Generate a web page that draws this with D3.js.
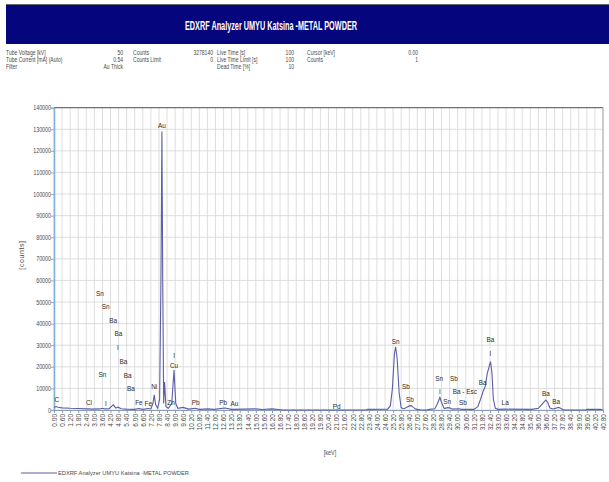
<!DOCTYPE html>
<html>
<head>
<meta charset="utf-8">
<script src="https://cdn.jsdelivr.net/npm/d3@7/dist/d3.min.js"></script>
<style>
  html, body { margin: 0; padding: 0; background: #fff; }
  svg { display: block; }
  .narrow { font-family: "Liberation Sans Narrow", "Arial Narrow", "Liberation Sans", Arial, sans-serif; }
</style>
</head>
<body>
<svg id="chart" width="609" height="482"></svg>
<script>
// Spectrum: energy (keV) and measured counts
const energyKeV = [
  0.00, 0.15, 0.30, 0.60, 1.20, 1.80, 2.40, 2.60, 2.80, 3.40, 3.60, 3.80, 4.10, 4.30, 4.40, 4.60, 4.75, 5.00,
  5.40, 6.00, 6.30, 6.60, 7.00, 7.20, 7.35, 7.45, 7.55, 7.70, 7.85, 7.95, 8.02, 8.08, 8.15, 8.22, 8.32,
  8.50, 8.75, 8.92, 9.05, 9.20, 9.60, 10.00, 10.48, 10.80, 11.44, 11.90, 12.70, 13.20, 15.00, 15.50,
  16.20, 16.70, 17.00, 23.20, 23.30, 24.80, 25.00, 25.15, 25.30, 25.39, 25.50, 25.65, 25.80, 26.00,
  26.20, 26.40, 26.55, 26.70, 26.90, 27.20, 27.40, 27.70, 27.90, 28.30, 28.50, 28.68, 28.80, 29.00,
  29.25, 29.40, 29.60, 30.10, 30.30, 31.20, 31.50, 31.70, 31.90, 32.05, 32.20, 32.44, 32.55, 32.65,
  32.80, 33.00, 33.50, 35.50, 36.00, 36.30, 36.55, 36.70, 36.85, 37.10, 37.50, 37.65, 37.80, 38.00,
  39.50, 39.60, 40.60, 40.80
];
const counts = [
  1200, 1600, 1300, 1000, 800, 700, 500, 600, 400, 500, 800, 500, 600, 1800, 2400, 900, 1300, 600,
  400, 300, 700, 300, 700, 500, 3000, 7000, 2500, 800, 5000, 62000, 129000, 60000, 3000, 13000, 1500,
  800, 3000, 18500, 3000, 800, 1200, 400, 800, 300, 500, 300, 900, 300, 500, 200,
  500, 200, 0, 0, 300, 400, 2000, 10000, 26000, 29300, 24000, 8000, 1000, 600,
  1200, 1900, 2000, 1200, 400, 100, 0, 0, 300, 600, 3000, 5800, 3500, 700,
  1100, 1000, 400, 600, 300, 300, 1500, 5000, 8800, 11000, 17000, 22400, 17000, 5000,
  800, 300, 400, 300, 800, 3000, 4600, 3500, 900, 500, 1200, 800, 200, 0,
  0, 300, 300, 0
];

// Peak identification tags: element, energy (keV), counts level of the tag
const tagNames  = ["Au", "Sn", "Sn", "Ba", "Ba", "I", "Ba", "Sn", "Ba", "Ba", "Ni", "C", "Cl", "I", "Fe", "Fe",
                   "Zn", "Cu", "I", "Pb", "Pb", "Au", "Pd", "Sn", "Sb", "Sb", "Sn", "I", "Sn", "Sb",
                   "Ba - Esc", "Sb", "Ba", "Ba", "I", "La", "Ba", "Ba"];
const tagKeV    = [8.02, 3.42, 3.84, 4.40, 4.78, 4.74, 5.15, 3.59, 5.48, 5.72, 7.45, 0.20, 2.60, 3.86, 6.31, 7.01,
                   8.70, 8.92, 8.92, 10.53, 12.58, 13.40, 21.00, 25.39, 26.15, 26.45, 28.63, 28.68, 29.22, 29.72,
                   30.53, 30.39, 31.85, 32.44, 32.44, 33.53, 36.55, 37.32];
const tagCounts = [132000, 54000, 48000, 41500, 35500, 29000, 22500, 16500, 16000, 10000, 11000, 5000, 3500, 3000, 3800, 3000,
                   3500, 20800, 25500, 3500, 3500, 3000, 1800, 31700, 10800, 5000, 14700, 8500, 4300, 14700,
                   8700, 3500, 12800, 32900, 26400, 3500, 8000, 4300];

// Acquisition parameters shown under the title
const infoLabels = [
  ["Tube Voltage [kV]", "50", "Counts", "3278140", "Live Time [s]", "100", "Cursor [keV]", "0.00"],
  ["Tube Current [mA] (Auto)", "0.54", "Counts Limit", "0", "Live Time Limit [s]", "100", "Counts", "1"],
  ["Filter", "Au Thick", "", "", "Dead Time [%]", "10", "", ""]
];

// Axis ticks
const xTicks = d3.range(0, 69).map(i => +(i * 0.6).toFixed(2));
const yTicks = d3.range(0, 150000, 10000);

const title = "EDXRF Analyzer UMYU Katsina -METAL POWDER";
const seriesName = "EDXRF Analyzer UMYU Katsina -METAL POWDER";

const svg = d3.select("#chart");
const lineColor = "#5d5fa5";

// Squeeze text horizontally to a condensed look
function condense(sel, f) {
  sel.each(function () {
    const w = this.getComputedTextLength();
    d3.select(this).attr("textLength", w * f).attr("lengthAdjust", "spacingAndGlyphs");
  });
}

// Title bar
svg.append("rect").attr("x", 6).attr("y", 4).attr("width", 603).attr("height", 1.5).attr("fill", "#666");
svg.append("rect").attr("x", 6).attr("y", 5).attr("width", 603).attr("height", 39).attr("fill", "#05057d");
svg.append("text").attr("class", "narrow")
  .attr("x", 271).attr("y", 30).attr("text-anchor", "middle")
  .attr("fill", "#fff").attr("font-size", 12.5).attr("font-weight", "bold")
  .attr("textLength", 172).attr("lengthAdjust", "spacingAndGlyphs")
  .text(title);

// Parameter table
const colX = [6, 123, 133, 213, 217, 294, 307, 418];
infoLabels.forEach((row, r) => {
  row.forEach((t, c) => {
    if (!t) return;
    svg.append("text").attr("class", "narrow")
      .attr("x", colX[c]).attr("y", 54.5 + r * 7)
      .attr("text-anchor", c % 2 === 1 ? "end" : "start")
      .attr("font-size", 6.3).attr("fill", "#4a4a4a")
      .text(t).call(condense, 0.8);
  });
});

// Plot area
const plotL = 54, plotR = 603, plotT = 107.7, plotB = 410;
const x = d3.scaleLinear().domain([0, 40.8]).range([plotL, plotR]);
const y = d3.scaleLinear().domain([0, 140000]).range([plotB, plotT]);

// Grid
const grid = svg.append("g");
grid.selectAll("line.v").data(xTicks).join("line").attr("class", "v")
  .attr("x1", d => x(d)).attr("x2", d => x(d)).attr("y1", plotT).attr("y2", plotB)
  .attr("stroke", "#d6d6d6").attr("stroke-width", 0.8);
grid.selectAll("line.h").data(yTicks).join("line").attr("class", "h")
  .attr("x1", plotL).attr("x2", plotR).attr("y1", d => y(d)).attr("y2", d => y(d))
  .attr("stroke", "#d6d6d6").attr("stroke-width", 0.8);

// Frame
svg.append("line").attr("x1", plotL).attr("x2", plotR).attr("y1", plotT).attr("y2", plotT)
  .attr("stroke", "#555").attr("stroke-width", 1);
svg.append("line").attr("x1", plotR).attr("x2", plotR).attr("y1", plotT).attr("y2", plotB)
  .attr("stroke", "#aaa").attr("stroke-width", 1);

// Axes
const yAxis = d3.axisLeft(y).tickValues(yTicks).tickSize(3).tickFormat(d3.format("d"));
const gy = svg.append("g").attr("transform", `translate(${plotL},0)`).call(yAxis);
gy.select(".domain").attr("stroke", "#7fb3d8").attr("stroke-width", 1.6);
gy.selectAll(".tick line").attr("stroke", "#7fb3d8");
gy.selectAll(".tick text").attr("class", "narrow").attr("font-size", 6.5).attr("fill", "#4a4a4a")
  .attr("x", -3).call(condense, 0.82);

const xAxis = d3.axisBottom(x).tickValues(xTicks).tickSize(3).tickFormat(d3.format(".2f"));
const gx = svg.append("g").attr("transform", `translate(0,${plotB})`).call(xAxis);
gx.select(".domain").attr("stroke", "#8a9bb8").attr("stroke-width", 1);
gx.selectAll(".tick line").attr("stroke", "#8a9bb8");
gx.selectAll(".tick text").attr("class", "narrow")
  .attr("font-size", 6.5).attr("fill", "#4a4a4a")
  .attr("transform", "rotate(-90)")
  .attr("text-anchor", "end").attr("x", -4).attr("y", 0).attr("dy", "0.35em");

// Axis titles
svg.append("text").attr("class", "narrow")
  .attr("transform", "translate(24,255) rotate(-90)")
  .attr("text-anchor", "middle").attr("font-size", 7).attr("fill", "#4a4a4a")
  .attr("letter-spacing", 0.6).text("[counts]");
svg.append("text").attr("class", "narrow")
  .attr("x", 330).attr("y", 455).attr("text-anchor", "middle")
  .attr("font-size", 6.5).attr("fill", "#4a4a4a").text("[keV]").call(condense, 0.85);

// Spectrum line
const pts = energyKeV.map((e, i) => [e, counts[i]]);
svg.append("path").datum(pts)
  .attr("fill", "none").attr("stroke", lineColor).attr("stroke-width", 1.1)
  .attr("d", d3.line().x(d => x(d[0])).y(d => y(d[1])));

// Peak tags
svg.append("g").selectAll("text").data(tagNames).join("text")
  .attr("class", "narrow")
  .attr("x", (d, i) => x(tagKeV[i])).attr("y", (d, i) => y(tagCounts[i]))
  .attr("text-anchor", "middle").attr("dy", "0.35em")
  .attr("font-size", 8).attr("fill", "#2a2a2a")
  .text(d => d).call(condense, 0.8);

// Legend
svg.append("line").attr("x1", 21).attr("x2", 57).attr("y1", 473).attr("y2", 473)
  .attr("stroke", lineColor).attr("stroke-width", 1.1);
svg.append("text").attr("class", "narrow")
  .attr("x", 58).attr("y", 475).attr("font-size", 6).attr("fill", "#4a4a4a")
  .text(seriesName).call(condense, 0.95);
</script>
</body>
</html>
